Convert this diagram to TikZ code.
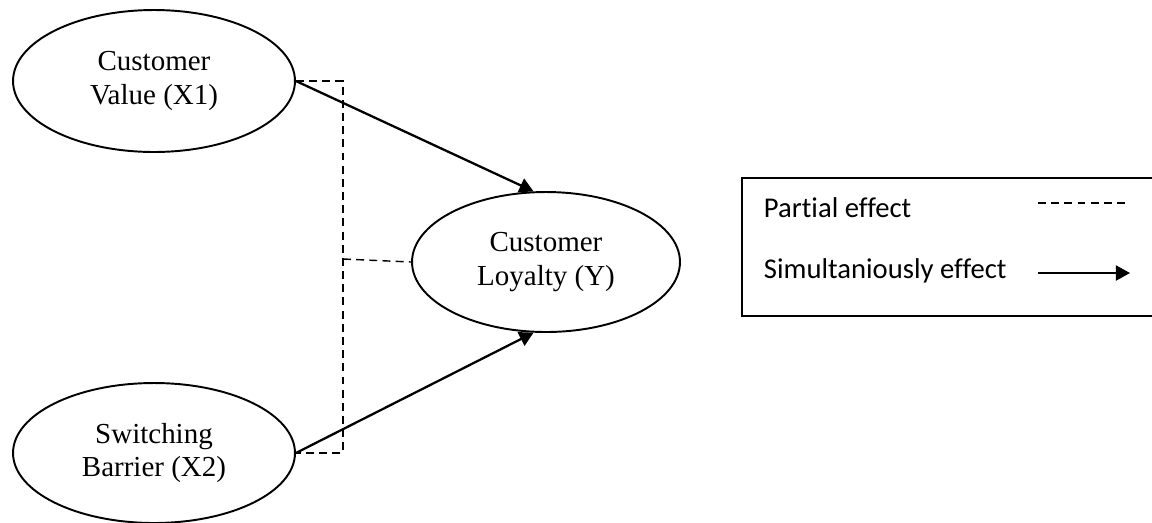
\documentclass[tikz,border=0pt]{standalone}
\usepackage{fontspec}
\setmainfont{Liberation Serif}
\newfontfamily\legendfont[Ligatures=NoCommon]{Carlito}
\usetikzlibrary{arrows.meta, shapes.geometric}

\begin{document}
\begin{tikzpicture}[x=0.02cm, y=-0.02cm, line width=1.1pt,
    var/.style={draw, ellipse, inner sep=0pt, align=center, font=\fontsize{16.5}{19}\selectfont},
    partial/.style={line width=0.8pt, dash pattern=on 4.5pt off 3pt},
    simult/.style={-{Triangle[length=8pt, width=8.5pt]}, line width=1.3pt},
    legendtext/.style={anchor=base west, inner sep=0pt, font=\legendfont\fontsize{16.3}{19}\selectfont}]
    \useasboundingbox (0,0) rectangle (1152,522);
    % latent variables
    \node[var, minimum width=5.64cm, minimum height=2.84cm] (x1) at (154,81) {Customer\\Value (X1)};
    \node[var, minimum width=5.64cm, minimum height=2.8cm] (x2) at (154,453) {Switching\\Barrier (X2)};
    \node[var, minimum width=5.36cm, minimum height=2.8cm] (y) at (546,262) {Customer\\Loyalty (Y)};
    % partial effect
    \coordinate (jn) at (343,259);
    \draw[partial] (x1.east) -| (jn) |- (x2.east);
    \draw[partial] (jn) -- (y.west);
    % simultaneous effect
    \draw[simult] (x1.east) -- (y.100);
    \draw[simult] (x2.east) -- (y.260);
    % legend
    \node[draw, minimum width=8.28cm, minimum height=2.76cm] (legend) at (949,247) {};
    \node[legendtext] (ptext) at (763,217) {Partial effect};
    \node[legendtext] (stext) at (763,278) {Simultaniously effect};
    \coordinate (pa) at (1038,203);
    \coordinate (pb) at (1130,203);
    \coordinate (sa) at (1038,273);
    \coordinate (sb) at (1130,273);
    \draw[partial] (pa) -- (pb);
    \draw[simult] (sa) -- (sb);
\end{tikzpicture}
\end{document}
